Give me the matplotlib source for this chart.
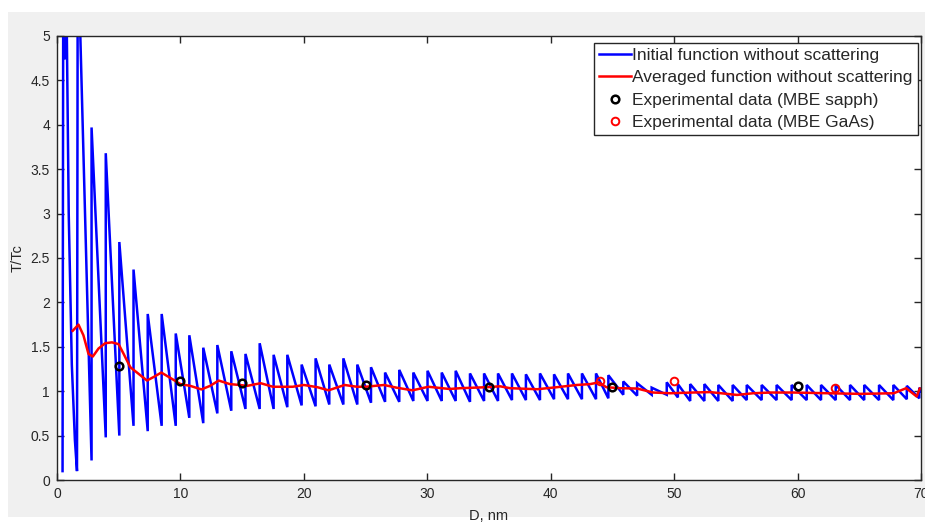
import matplotlib
matplotlib.use("Agg")
import matplotlib.pyplot as plt
from matplotlib.patches import Rectangle

plt.rcParams['font.family'] = ['Liberation Sans', 'DejaVu Sans']

# ---- data ----
# blue curve, first (irregular) part: explicit vertices
early_d = [0.45, 0.51, 0.51, 0.72, 0.73, 0.76, 0.95, 1.20, 1.45, 1.62, 1.68, 1.70]
early_v = [0.10, 6.00, 4.75, 4.75, 6.00, 5.50, 3.00, 1.30, 0.45, 0.10, 6.00, 6.00]

# regular saw-tooth part: jump positions, value just before the jump, value at the top
tooth_d = [2.80, 3.95, 5.05, 6.20, 7.35, 8.48, 9.62, 10.72, 11.85, 12.99,
           14.12, 15.27, 16.42, 17.55, 18.66, 19.82, 20.95, 22.06, 23.20, 24.33,
           25.44, 26.58, 27.73, 28.87, 30.02, 31.17, 32.30, 33.46, 34.60, 35.73,
           36.86, 37.99, 39.13, 40.27, 41.40, 42.53, 43.67, 44.67, 45.88, 47.00,
           48.18, 49.40, 50.30, 51.30, 52.45, 53.58, 54.74, 55.88, 57.09, 58.30,
           59.52, 60.74, 61.90, 63.09, 64.25, 65.40, 66.60, 67.76, 68.85, 69.86]
tooth_low = [0.22, 0.48, 0.50, 0.61, 0.55, 0.61, 0.61, 0.70, 0.64, 0.75,
             0.78, 0.80, 0.80, 0.80, 0.82, 0.84, 0.83, 0.85, 0.85, 0.85,
             0.87, 0.88, 0.88, 0.89, 0.89, 0.89, 0.89, 0.88, 0.89, 0.89,
             0.90, 0.90, 0.90, 0.91, 0.91, 0.91, 0.91, 0.92, 0.96, 0.95,
             0.96, 0.96, 0.93, 0.89, 0.89, 0.89, 0.89, 0.90, 0.90, 0.90,
             0.90, 0.90, 0.90, 0.90, 0.90, 0.90, 0.90, 0.90, 0.91, 0.92]
tooth_peak = [3.97, 3.68, 2.68, 2.37, 1.87, 1.87, 1.65, 1.63, 1.49, 1.52,
              1.45, 1.42, 1.54, 1.41, 1.41, 1.30, 1.37, 1.30, 1.37, 1.30,
              1.27, 1.21, 1.24, 1.21, 1.23, 1.21, 1.23, 1.20, 1.20, 1.20,
              1.20, 1.19, 1.20, 1.19, 1.20, 1.20, 1.20, 1.18, 1.11, 1.09,
              1.04, 1.10, 1.08, 1.08, 1.08, 1.07, 1.07, 1.07, 1.07, 1.07,
              1.07, 1.07, 1.07, 1.07, 1.07, 1.07, 1.07, 1.07, 1.06, 1.04]
end_d, end_v = 70.0, 1.00

# red averaged curve
avg_d = [1.27, 1.74, 2.14, 2.55, 2.90, 3.36, 3.90, 4.45, 4.99, 5.40, 5.94, 6.48,
         7.29, 7.83, 8.45, 9.30, 10.00, 10.80, 11.70, 12.40, 13.10, 14.00, 14.80,
         15.40, 16.50, 17.50, 19.10, 20.00, 21.10, 22.00, 23.30, 24.30, 25.00,
         26.50, 27.50, 28.80, 30.10, 31.80, 32.70, 34.80, 35.90, 36.70, 38.90,
         40.50, 42.10, 43.20, 43.90, 44.50, 45.60, 47.00, 48.30, 49.70, 51.50,
         52.90, 55.10, 56.40, 57.80, 59.70, 62.40, 65.10, 67.80, 68.80, 69.65, 69.90]
avg_v = [1.68, 1.75, 1.63, 1.42, 1.39, 1.48, 1.54, 1.55, 1.53, 1.42, 1.27, 1.21,
         1.12, 1.16, 1.21, 1.14, 1.08, 1.06, 1.02, 1.06, 1.12, 1.08, 1.07,
         1.06, 1.09, 1.05, 1.05, 1.07, 1.045, 1.01, 1.07, 1.05, 1.05,
         1.07, 1.04, 1.01, 1.05, 1.025, 1.034, 1.045, 1.055, 1.034, 1.022,
         1.045, 1.07, 1.08, 1.10, 1.045, 1.034, 1.03, 0.985, 0.977, 0.985,
         0.99, 0.958, 0.977, 0.985, 0.985, 0.977, 0.97, 0.977, 1.034, 0.94, 1.03]

# experimental points
sapph_d = [5, 10, 15, 25, 35, 45, 60]
sapph_v = [1.28, 1.12, 1.09, 1.07, 1.05, 1.045, 1.06]
gaas_d = [44, 50, 63]
gaas_v = [1.12, 1.11, 1.035]

xticks = [0, 10, 20, 30, 40, 50, 60, 70]
yticks = [0, 0.5, 1, 1.5, 2, 2.5, 3, 3.5, 4, 4.5, 5]
ytick_labels = ['0', '0.5', '1', '1.5', '2', '2.5', '3', '3.5', '4', '4.5', '5']

# ---- build blue vertex list from the read values ----
blue_x = list(early_d)
blue_y = list(early_v)
for d, lo, hi in zip(tooth_d, tooth_low, tooth_peak):
    blue_x += [d, d]
    blue_y += [lo, hi]
blue_x.append(end_d)
blue_y.append(end_v)

# ---- figure ----
W, H = 925, 523
fig = plt.figure(figsize=(W / 100, H / 100), dpi=100)
fig.patch.set_facecolor('white')
fig.patches.append(Rectangle((8 / W, 1 - 517 / H), 1 - 8 / W, (517 - 12) / H,
                             transform=fig.transFigure, facecolor='#f0f0f0',
                             edgecolor='none', zorder=-10))

ax = fig.add_axes([57 / W, 1 - 480 / H, (921 - 57) / W, (480 - 36) / H])
ax.set_facecolor('white')

l1, = ax.plot(blue_x, blue_y, color='#0000ff', lw=1.8, solid_joinstyle='miter',
              label='Initial function without scattering')
l2, = ax.plot(avg_d, avg_v, color='#ff0000', lw=1.8,
              label='Averaged function without scattering')
l3, = ax.plot(sapph_d, sapph_v, 'o', ms=5.5, mfc='none', mec='black', mew=1.8,
              label='Experimental data (MBE sapph)')
l4, = ax.plot(gaas_d, gaas_v, 'o', ms=5.5, mfc='none', mec='#ff0000', mew=1.4,
              label='Experimental data (MBE GaAs)')

ax.set_xlim(0, 70)
ax.set_ylim(0, 5)
ax.set_xticks(xticks)
ax.set_xticklabels([str(t) for t in xticks])
ax.set_yticks(yticks)
ax.set_yticklabels(ytick_labels)

tc = '#262626'
for s in ax.spines.values():
    s.set_color(tc)
    s.set_linewidth(1.0)
ax.tick_params(direction='in', length=5, width=1.0, colors=tc, top=True,
               right=True, labelsize=10, pad=5)
ax.set_xlabel('D, nm', fontsize=10.5, color=tc, labelpad=6)
ax.set_ylabel('T/Tc', fontsize=10.5, color=tc, labelpad=4)

leg = ax.legend(handles=[l1, l2, l3, l4], loc='upper right',
                bbox_to_anchor=((918 - 57) / 864, (480 - 42.5) / 444),
                fontsize=12.5, frameon=True, fancybox=False, framealpha=1,
                edgecolor=tc, borderaxespad=0.0, handlelength=1.8,
                handletextpad=0.1, labelspacing=0.42, borderpad=0.3)
leg.get_frame().set_linewidth(1.0)
for t in leg.get_texts():
    t.set_color(tc)

fig.savefig('out.png', dpi=100, facecolor=fig.get_facecolor())
